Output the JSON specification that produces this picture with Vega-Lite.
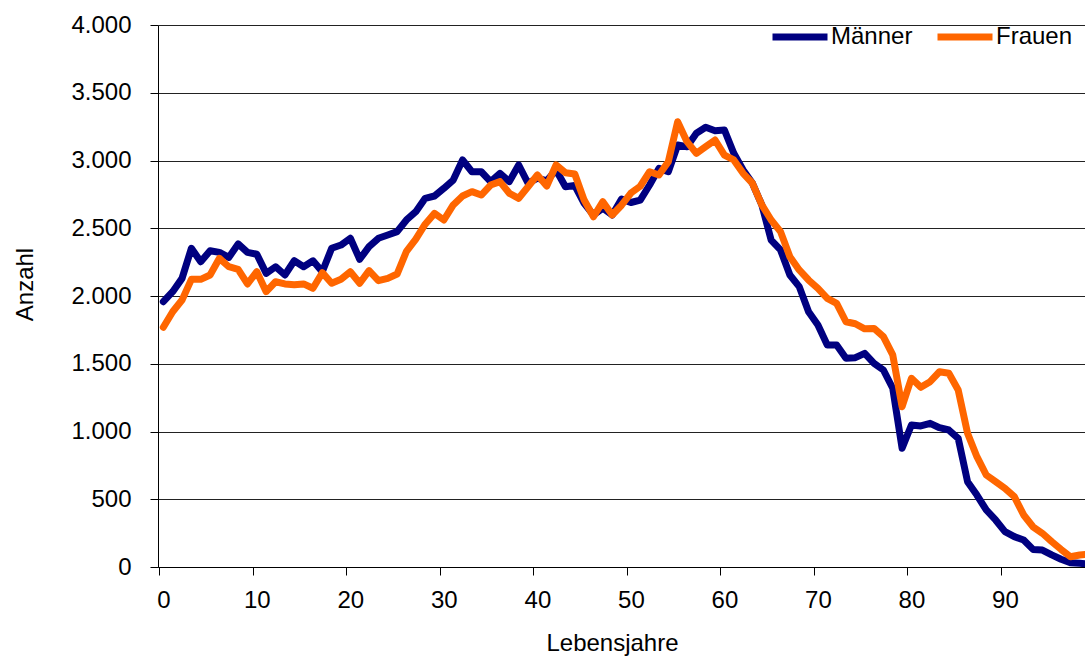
{
  "$schema": "https://vega.github.io/schema/vega-lite/v6.json",
  "width": 927,
  "height": 542,
  "autosize": {"type": "none"},
  "padding": {"left": 158, "top": 25, "right": 0, "bottom": 101},
  "background": "white",
  "config": {
    "view": {"stroke": null},
    "font": "Liberation Sans",
    "axis": {"labelFont": "Liberation Sans", "titleFont": "Liberation Sans", "labelColor": "#000", "titleColor": "#000", "titleFontWeight": "normal"},
    "legend": {"labelFont": "Liberation Sans"}
  },
  "data": {
    "values": [
      {"age":0,"sex":"Männer","n":1958},{"age":1,"sex":"Männer","n":2032},{"age":2,"sex":"Männer","n":2130},{"age":3,"sex":"Männer","n":2352},{"age":4,"sex":"Männer","n":2253},
      {"age":5,"sex":"Männer","n":2334},{"age":6,"sex":"Männer","n":2322},{"age":7,"sex":"Männer","n":2285},{"age":8,"sex":"Männer","n":2384},{"age":9,"sex":"Männer","n":2322},
      {"age":10,"sex":"Männer","n":2308},{"age":11,"sex":"Männer","n":2167},{"age":12,"sex":"Männer","n":2216},{"age":13,"sex":"Männer","n":2155},{"age":14,"sex":"Männer","n":2260},
      {"age":15,"sex":"Männer","n":2216},{"age":16,"sex":"Männer","n":2260},{"age":17,"sex":"Männer","n":2179},{"age":18,"sex":"Männer","n":2352},{"age":19,"sex":"Männer","n":2376},
      {"age":20,"sex":"Männer","n":2426},{"age":21,"sex":"Männer","n":2271},{"age":22,"sex":"Männer","n":2364},{"age":23,"sex":"Männer","n":2426},{"age":24,"sex":"Männer","n":2450},
      {"age":25,"sex":"Männer","n":2475},{"age":26,"sex":"Männer","n":2561},{"age":27,"sex":"Männer","n":2622},{"age":28,"sex":"Männer","n":2721},{"age":29,"sex":"Männer","n":2738},
      {"age":30,"sex":"Männer","n":2795},{"age":31,"sex":"Männer","n":2856},{"age":32,"sex":"Männer","n":3004},{"age":33,"sex":"Männer","n":2917},{"age":34,"sex":"Männer","n":2917},
      {"age":35,"sex":"Männer","n":2844},{"age":36,"sex":"Männer","n":2905},{"age":37,"sex":"Männer","n":2844},{"age":38,"sex":"Männer","n":2967},{"age":39,"sex":"Männer","n":2832},
      {"age":40,"sex":"Männer","n":2870},{"age":41,"sex":"Männer","n":2850},{"age":42,"sex":"Männer","n":2930},{"age":43,"sex":"Männer","n":2806},{"age":44,"sex":"Männer","n":2815},
      {"age":45,"sex":"Männer","n":2684},{"age":46,"sex":"Männer","n":2598},{"age":47,"sex":"Männer","n":2648},{"age":48,"sex":"Männer","n":2598},{"age":49,"sex":"Männer","n":2715},
      {"age":50,"sex":"Männer","n":2690},{"age":51,"sex":"Männer","n":2708},{"age":52,"sex":"Männer","n":2819},{"age":53,"sex":"Männer","n":2942},{"age":54,"sex":"Männer","n":2917},
      {"age":55,"sex":"Männer","n":3114},{"age":56,"sex":"Männer","n":3102},{"age":57,"sex":"Männer","n":3201},{"age":58,"sex":"Männer","n":3245},{"age":59,"sex":"Männer","n":3220},
      {"age":60,"sex":"Männer","n":3225},{"age":61,"sex":"Männer","n":3053},{"age":62,"sex":"Männer","n":2930},{"age":63,"sex":"Männer","n":2832},{"age":64,"sex":"Männer","n":2672},
      {"age":65,"sex":"Männer","n":2413},{"age":66,"sex":"Männer","n":2340},{"age":67,"sex":"Männer","n":2155},{"age":68,"sex":"Männer","n":2069},{"age":69,"sex":"Männer","n":1884},
      {"age":70,"sex":"Männer","n":1786},{"age":71,"sex":"Männer","n":1638},{"age":72,"sex":"Männer","n":1638},{"age":73,"sex":"Männer","n":1540},{"age":74,"sex":"Männer","n":1545},
      {"age":75,"sex":"Männer","n":1577},{"age":76,"sex":"Männer","n":1503},{"age":77,"sex":"Männer","n":1454},{"age":78,"sex":"Männer","n":1319},{"age":79,"sex":"Männer","n":876},
      {"age":80,"sex":"Männer","n":1048},{"age":81,"sex":"Männer","n":1041},{"age":82,"sex":"Männer","n":1060},{"age":83,"sex":"Männer","n":1028},{"age":84,"sex":"Männer","n":1011},
      {"age":85,"sex":"Männer","n":950},{"age":86,"sex":"Männer","n":630},{"age":87,"sex":"Männer","n":531},{"age":88,"sex":"Männer","n":421},{"age":89,"sex":"Männer","n":347},
      {"age":90,"sex":"Männer","n":261},{"age":91,"sex":"Männer","n":224},{"age":92,"sex":"Männer","n":199},{"age":93,"sex":"Männer","n":130},{"age":94,"sex":"Männer","n":125},
      {"age":95,"sex":"Männer","n":89},{"age":96,"sex":"Männer","n":57},{"age":97,"sex":"Männer","n":32},{"age":98,"sex":"Männer","n":27},{"age":99,"sex":"Männer","n":22},
      {"age":0,"sex":"Frauen","n":1769},{"age":1,"sex":"Frauen","n":1884},{"age":2,"sex":"Frauen","n":1970},{"age":3,"sex":"Frauen","n":2123},{"age":4,"sex":"Frauen","n":2123},
      {"age":5,"sex":"Frauen","n":2155},{"age":6,"sex":"Frauen","n":2278},{"age":7,"sex":"Frauen","n":2216},{"age":8,"sex":"Frauen","n":2197},{"age":9,"sex":"Frauen","n":2089},
      {"age":10,"sex":"Frauen","n":2179},{"age":11,"sex":"Frauen","n":2032},{"age":12,"sex":"Frauen","n":2105},{"age":13,"sex":"Frauen","n":2089},{"age":14,"sex":"Frauen","n":2083},
      {"age":15,"sex":"Frauen","n":2089},{"age":16,"sex":"Frauen","n":2057},{"age":17,"sex":"Frauen","n":2172},{"age":18,"sex":"Frauen","n":2094},{"age":19,"sex":"Frauen","n":2123},
      {"age":20,"sex":"Frauen","n":2179},{"age":21,"sex":"Frauen","n":2094},{"age":22,"sex":"Frauen","n":2187},{"age":23,"sex":"Frauen","n":2113},{"age":24,"sex":"Frauen","n":2130},
      {"age":25,"sex":"Frauen","n":2162},{"age":26,"sex":"Frauen","n":2330},{"age":27,"sex":"Frauen","n":2420},{"age":28,"sex":"Frauen","n":2530},{"age":29,"sex":"Frauen","n":2610},
      {"age":30,"sex":"Frauen","n":2561},{"age":31,"sex":"Frauen","n":2672},{"age":32,"sex":"Frauen","n":2738},{"age":33,"sex":"Frauen","n":2770},{"age":34,"sex":"Frauen","n":2745},
      {"age":35,"sex":"Frauen","n":2819},{"age":36,"sex":"Frauen","n":2844},{"age":37,"sex":"Frauen","n":2758},{"age":38,"sex":"Frauen","n":2721},{"age":39,"sex":"Frauen","n":2806},
      {"age":40,"sex":"Frauen","n":2893},{"age":41,"sex":"Frauen","n":2812},{"age":42,"sex":"Frauen","n":2967},{"age":43,"sex":"Frauen","n":2910},{"age":44,"sex":"Frauen","n":2900},
      {"age":45,"sex":"Frauen","n":2708},{"age":46,"sex":"Frauen","n":2585},{"age":47,"sex":"Frauen","n":2696},{"age":48,"sex":"Frauen","n":2598},{"age":49,"sex":"Frauen","n":2670},
      {"age":50,"sex":"Frauen","n":2760},{"age":51,"sex":"Frauen","n":2810},{"age":52,"sex":"Frauen","n":2917},{"age":53,"sex":"Frauen","n":2893},{"age":54,"sex":"Frauen","n":2991},
      {"age":55,"sex":"Frauen","n":3286},{"age":56,"sex":"Frauen","n":3139},{"age":57,"sex":"Frauen","n":3053},{"age":58,"sex":"Frauen","n":3102},{"age":59,"sex":"Frauen","n":3151},
      {"age":60,"sex":"Frauen","n":3040},{"age":61,"sex":"Frauen","n":3004},{"age":62,"sex":"Frauen","n":2905},{"age":63,"sex":"Frauen","n":2832},{"age":64,"sex":"Frauen","n":2672},
      {"age":65,"sex":"Frauen","n":2561},{"age":66,"sex":"Frauen","n":2475},{"age":67,"sex":"Frauen","n":2290},{"age":68,"sex":"Frauen","n":2192},{"age":69,"sex":"Frauen","n":2118},
      {"age":70,"sex":"Frauen","n":2057},{"age":71,"sex":"Frauen","n":1983},{"age":72,"sex":"Frauen","n":1946},{"age":73,"sex":"Frauen","n":1810},{"age":74,"sex":"Frauen","n":1795},
      {"age":75,"sex":"Frauen","n":1758},{"age":76,"sex":"Frauen","n":1761},{"age":77,"sex":"Frauen","n":1700},{"age":78,"sex":"Frauen","n":1565},{"age":79,"sex":"Frauen","n":1183},
      {"age":80,"sex":"Frauen","n":1393},{"age":81,"sex":"Frauen","n":1326},{"age":82,"sex":"Frauen","n":1368},{"age":83,"sex":"Frauen","n":1441},{"age":84,"sex":"Frauen","n":1430},
      {"age":85,"sex":"Frauen","n":1306},{"age":86,"sex":"Frauen","n":987},{"age":87,"sex":"Frauen","n":814},{"age":88,"sex":"Frauen","n":679},{"age":89,"sex":"Frauen","n":630},
      {"age":90,"sex":"Frauen","n":581},{"age":91,"sex":"Frauen","n":519},{"age":92,"sex":"Frauen","n":384},{"age":93,"sex":"Frauen","n":297},{"age":94,"sex":"Frauen","n":249},
      {"age":95,"sex":"Frauen","n":187},{"age":96,"sex":"Frauen","n":130},{"age":97,"sex":"Frauen","n":76},{"age":98,"sex":"Frauen","n":89},{"age":99,"sex":"Frauen","n":95}
    ]
  },
  "mark": {"type": "line", "strokeWidth": 7, "strokeJoin": "round", "strokeCap": "round", "clip": true},
  "encoding": {
    "x": {
      "field": "age", "type": "quantitative",
      "scale": {"domain": [-0.57, 98.56], "nice": false, "zero": false},
      "axis": {
        "values": [0,10,20,30,40,50,60,70,80,90],
        "grid": false,
        "domainColor": "#000", "domainWidth": 1,
        "tickColor": "#000", "tickSize": 8, "tickOffset": -4,
        "labelOffset": 4, "labelFontSize": 24, "labelPadding": 13,
        "labelFlush": false,
        "title": "Lebensjahre", "titleFontSize": 24,
        "titleX": 454, "titleY": 83, "titleBaseline": "alphabetic", "titleAlign": "center", "titleAnchor": null
      }
    },
    "y": {
      "field": "n", "type": "quantitative",
      "scale": {"domain": [0, 4000], "nice": false},
      "axis": {
        "values": [0,500,1000,1500,2000,2500,3000,3500,4000],
        "labelExpr": "replace(format(datum.value, ','), ',', '.')",
        "grid": true, "gridColor": "#222", "gridWidth": 1,
        "domainColor": "#000", "tickColor": "#000", "tickSize": 8,
        "labelFontSize": 24, "labelPadding": 19,
        "labelFlush": false,
        "title": "Anzahl", "titleFontSize": 24,
        "titleX": -126, "titleY": 259, "titleAngle": -90, "titleBaseline": "alphabetic", "titleAlign": "center"
      }
    },
    "color": {
      "field": "sex", "type": "nominal",
      "scale": {"domain": ["Männer", "Frauen"], "range": ["#000080", "#FF6600"]},
      "legend": {
        "title": null, "orient": "none", "direction": "horizontal",
        "legendX": 611, "legendY": -19,
        "symbolType": "stroke", "symbolStrokeWidth": 7, "symbolSize": 3025,
        "labelFontSize": 24, "labelColor": "#000", "labelOffset": 0,
        "columnPadding": 10, "padding": 0
      }
    }
  }
}
